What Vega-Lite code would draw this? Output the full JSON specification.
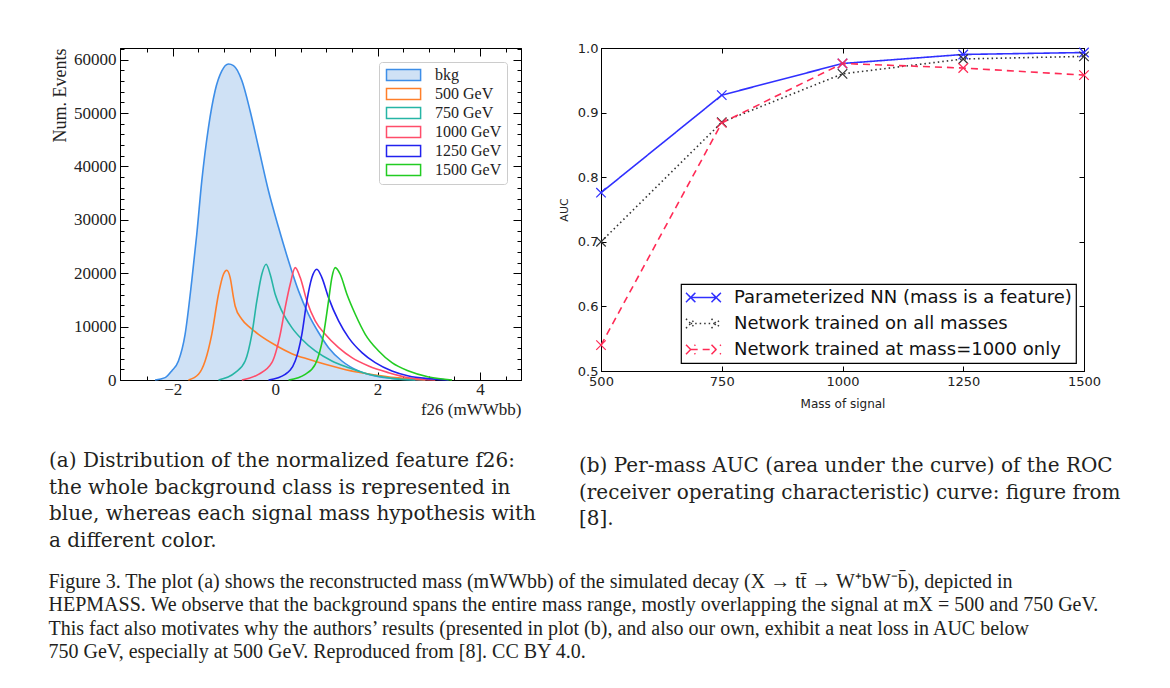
{
  "$schema": "https://vega.github.io/schema/vega-lite/v6.json",
  "padding": {"left": 48, "top": 39, "right": 8, "bottom": 8},
  "background": "white",
  "bounds": "flush",
  "spacing": 80,
  "resolve": {"scale": {"color": "independent", "strokeDash": "independent"}, "legend": {"color": "independent", "strokeDash": "independent"}},
  "title": {
    "text": [
      "Figure 3. The plot (a) shows the reconstructed mass (mWWbb) of the simulated decay (X → tt̄ → W⁺bW⁻b̄), depicted in",
      "HEPMASS. We observe that the background spans the entire mass range, mostly overlapping the signal at mX = 500 and 750 GeV.",
      "This fact also motivates why the authors’ results (presented in plot (b), and also our own, exhibit a neat loss in AUC below",
      "750 GeV, especially at 500 GeV. Reproduced from [8]. CC BY 4.0."
    ],
    "orient": "bottom", "anchor": "start", "frame": "bounds", "offset": 20,
    "font": "Liberation Serif", "fontSize": 20, "fontWeight": "normal", "lineHeight": 23.5, "color": "#231f20"
  },
  "datasets": {
    "hist": [
      {"s": "bkg", "x": -2.345, "y": 0}, {"s": "bkg", "x": -2.15, "y": 440}, {"s": "bkg", "x": -2.02, "y": 1700}, {"s": "bkg", "x": -1.889, "y": 3560}, {"s": "bkg", "x": -1.759, "y": 8560}, {"s": "bkg", "x": -1.629, "y": 18560}, {"s": "bkg", "x": -1.531, "y": 27300}, {"s": "bkg", "x": -1.433, "y": 37300}, {"s": "bkg", "x": -1.303, "y": 47300}, {"s": "bkg", "x": -1.173, "y": 54200}, {"s": "bkg", "x": -1.042, "y": 57900}, {"s": "bkg", "x": -0.912, "y": 59200}, {"s": "bkg", "x": -0.814, "y": 58900}, {"s": "bkg", "x": -0.651, "y": 56100}, {"s": "bkg", "x": -0.489, "y": 50400}, {"s": "bkg", "x": -0.326, "y": 43600}, {"s": "bkg", "x": -0.13, "y": 35400}, {"s": "bkg", "x": 0.065, "y": 28600}, {"s": "bkg", "x": 0.261, "y": 22300}, {"s": "bkg", "x": 0.456, "y": 16700}, {"s": "bkg", "x": 0.651, "y": 12300}, {"s": "bkg", "x": 0.847, "y": 8900}, {"s": "bkg", "x": 1.042, "y": 6060}, {"s": "bkg", "x": 1.303, "y": 3560}, {"s": "bkg", "x": 1.629, "y": 1690}, {"s": "bkg", "x": 1.954, "y": 750}, {"s": "bkg", "x": 2.345, "y": 250}, {"s": "bkg", "x": 2.932, "y": 0},
      {"s": "500 GeV", "x": -1.694, "y": 0}, {"s": "500 GeV", "x": -1.498, "y": 1062}, {"s": "500 GeV", "x": -1.368, "y": 3562}, {"s": "500 GeV", "x": -1.238, "y": 8562}, {"s": "500 GeV", "x": -1.107, "y": 16062}, {"s": "500 GeV", "x": -1.01, "y": 19812}, {"s": "500 GeV", "x": -0.945, "y": 20562}, {"s": "500 GeV", "x": -0.879, "y": 19187}, {"s": "500 GeV", "x": -0.814, "y": 15437}, {"s": "500 GeV", "x": -0.782, "y": 13875}, {"s": "500 GeV", "x": -0.651, "y": 11375}, {"s": "500 GeV", "x": -0.489, "y": 9812}, {"s": "500 GeV", "x": -0.326, "y": 8562}, {"s": "500 GeV", "x": 0, "y": 6562}, {"s": "500 GeV", "x": 0.326, "y": 4937}, {"s": "500 GeV", "x": 0.651, "y": 3875}, {"s": "500 GeV", "x": 0.977, "y": 2937}, {"s": "500 GeV", "x": 1.303, "y": 2125}, {"s": "500 GeV", "x": 1.629, "y": 1437}, {"s": "500 GeV", "x": 1.954, "y": 937}, {"s": "500 GeV", "x": 2.345, "y": 437}, {"s": "500 GeV", "x": 2.932, "y": 0},
      {"s": "750 GeV", "x": -1.107, "y": 0}, {"s": "750 GeV", "x": -0.782, "y": 1375}, {"s": "750 GeV", "x": -0.586, "y": 3562}, {"s": "750 GeV", "x": -0.456, "y": 8562}, {"s": "750 GeV", "x": -0.358, "y": 14812}, {"s": "750 GeV", "x": -0.261, "y": 19812}, {"s": "750 GeV", "x": -0.176, "y": 21687}, {"s": "750 GeV", "x": -0.098, "y": 19812}, {"s": "750 GeV", "x": 0, "y": 16062}, {"s": "750 GeV", "x": 0.13, "y": 12937}, {"s": "750 GeV", "x": 0.326, "y": 9812}, {"s": "750 GeV", "x": 0.521, "y": 7625}, {"s": "750 GeV", "x": 0.782, "y": 5437}, {"s": "750 GeV", "x": 1.107, "y": 3562}, {"s": "750 GeV", "x": 1.433, "y": 2312}, {"s": "750 GeV", "x": 1.824, "y": 1062}, {"s": "750 GeV", "x": 2.28, "y": 312}, {"s": "750 GeV", "x": 2.736, "y": 0},
      {"s": "1000 GeV", "x": -0.651, "y": 0}, {"s": "1000 GeV", "x": -0.326, "y": 1062}, {"s": "1000 GeV", "x": -0.065, "y": 3250}, {"s": "1000 GeV", "x": 0.098, "y": 8562}, {"s": "1000 GeV", "x": 0.195, "y": 13562}, {"s": "1000 GeV", "x": 0.293, "y": 17937}, {"s": "1000 GeV", "x": 0.391, "y": 21062}, {"s": "1000 GeV", "x": 0.489, "y": 19187}, {"s": "1000 GeV", "x": 0.619, "y": 14812}, {"s": "1000 GeV", "x": 0.782, "y": 11062}, {"s": "1000 GeV", "x": 0.977, "y": 8562}, {"s": "1000 GeV", "x": 1.238, "y": 6062}, {"s": "1000 GeV", "x": 1.498, "y": 4187}, {"s": "1000 GeV", "x": 1.824, "y": 2625}, {"s": "1000 GeV", "x": 2.215, "y": 1375}, {"s": "1000 GeV", "x": 2.606, "y": 437}, {"s": "1000 GeV", "x": 3.127, "y": 0},
      {"s": "1250 GeV", "x": -0.13, "y": 0}, {"s": "1250 GeV", "x": 0.195, "y": 1062}, {"s": "1250 GeV", "x": 0.391, "y": 3562}, {"s": "1250 GeV", "x": 0.521, "y": 8562}, {"s": "1250 GeV", "x": 0.619, "y": 14812}, {"s": "1250 GeV", "x": 0.717, "y": 19187}, {"s": "1250 GeV", "x": 0.814, "y": 20750}, {"s": "1250 GeV", "x": 0.912, "y": 19187}, {"s": "1250 GeV", "x": 1.042, "y": 15437}, {"s": "1250 GeV", "x": 1.238, "y": 11062}, {"s": "1250 GeV", "x": 1.433, "y": 7937}, {"s": "1250 GeV", "x": 1.694, "y": 5125}, {"s": "1250 GeV", "x": 1.954, "y": 3250}, {"s": "1250 GeV", "x": 2.28, "y": 1687}, {"s": "1250 GeV", "x": 2.606, "y": 750}, {"s": "1250 GeV", "x": 2.997, "y": 250}, {"s": "1250 GeV", "x": 3.388, "y": 0},
      {"s": "1500 GeV", "x": 0.261, "y": 0}, {"s": "1500 GeV", "x": 0.586, "y": 1062}, {"s": "1500 GeV", "x": 0.782, "y": 2937}, {"s": "1500 GeV", "x": 0.945, "y": 8562}, {"s": "1500 GeV", "x": 1.042, "y": 14812}, {"s": "1500 GeV", "x": 1.107, "y": 19187}, {"s": "1500 GeV", "x": 1.173, "y": 21062}, {"s": "1500 GeV", "x": 1.27, "y": 19812}, {"s": "1500 GeV", "x": 1.401, "y": 16062}, {"s": "1500 GeV", "x": 1.564, "y": 12312}, {"s": "1500 GeV", "x": 1.759, "y": 8562}, {"s": "1500 GeV", "x": 2.02, "y": 5437}, {"s": "1500 GeV", "x": 2.28, "y": 3250}, {"s": "1500 GeV", "x": 2.606, "y": 1687}, {"s": "1500 GeV", "x": 2.997, "y": 562}, {"s": "1500 GeV", "x": 3.453, "y": 0}
    ],
    "auc": [
      {"model": "Parameterized NN (mass is a feature)", "mass": 500, "auc": 0.776},
      {"model": "Parameterized NN (mass is a feature)", "mass": 750, "auc": 0.927},
      {"model": "Parameterized NN (mass is a feature)", "mass": 1000, "auc": 0.976},
      {"model": "Parameterized NN (mass is a feature)", "mass": 1250, "auc": 0.99},
      {"model": "Parameterized NN (mass is a feature)", "mass": 1500, "auc": 0.993},
      {"model": "Network trained on all masses", "mass": 500, "auc": 0.7},
      {"model": "Network trained on all masses", "mass": 750, "auc": 0.885},
      {"model": "Network trained on all masses", "mass": 1000, "auc": 0.96},
      {"model": "Network trained on all masses", "mass": 1250, "auc": 0.983},
      {"model": "Network trained on all masses", "mass": 1500, "auc": 0.987},
      {"model": "Network trained at mass=1000 only", "mass": 500, "auc": 0.54},
      {"model": "Network trained at mass=1000 only", "mass": 750, "auc": 0.884},
      {"model": "Network trained at mass=1000 only", "mass": 1000, "auc": 0.976},
      {"model": "Network trained at mass=1000 only", "mass": 1250, "auc": 0.969},
      {"model": "Network trained at mass=1000 only", "mass": 1500, "auc": 0.958}
    ]
  },
  "hconcat": [
    {
      "width": 401,
      "height": 332,
      "title": {
        "text": [
          "(a) Distribution of the normalized feature f26:",
          "the whole background class is represented in",
          "blue, whereas each signal mass hypothesis with",
          "a different color."
        ],
        "orient": "bottom", "anchor": "start", "frame": "group", "dx": -71, "offset": 34,
        "font": "DejaVu Serif", "fontSize": 20, "fontWeight": "normal", "lineHeight": 26.7, "color": "#231f20"
      },
      "layer": [
        {
          "data": {"name": "hist"},
          "transform": [{"filter": "datum.s === 'bkg'"}],
          "mark": {"type": "area", "interpolate": "monotone", "fill": "#cfe1f5", "fillOpacity": 1},
          "encoding": {
            "x": {"field": "x", "type": "quantitative", "scale": {"domain": [-3.03, 4.8], "nice": false, "zero": false},
              "axis": {"orient": "bottom", "values": [-2.5, -2, -1.5, -1, -0.5, 0, 0.5, 1, 1.5, 2, 2.5, 3, 3.5, 4, 4.5],
                "labelExpr": "datum.value % 2 === 0 ? format(datum.value, 'd') : ''",
                "tickSize": {"condition": {"test": "datum.value % 2 === 0", "value": -8}, "value": -4},
                "labelPadding": 9, "labelFont": "Liberation Serif", "labelFontSize": 17, "labelColor": "#222",
                "title": "f26 (mWWbb)", "titleFont": "Liberation Serif", "titleFontSize": 17, "titleFontWeight": "normal", "titleColor": "#222",
                "titleAnchor": "end", "titlePadding": 0, "labelOverlap": false}},
            "y": {"field": "y", "type": "quantitative", "scale": {"domain": [0, 62200], "nice": false},
              "axis": {"orient": "left", "values": [0, 2000, 4000, 6000, 8000, 10000, 12000, 14000, 16000, 18000, 20000, 22000, 24000, 26000, 28000, 30000, 32000, 34000, 36000, 38000, 40000, 42000, 44000, 46000, 48000, 50000, 52000, 54000, 56000, 58000, 60000, 62000],
                "labelExpr": "datum.value % 10000 === 0 ? datum.value + '' : ''",
                "tickSize": {"condition": {"test": "datum.value % 10000 === 0", "value": -8}, "value": -4},
                "labelPadding": 12, "labelFont": "Liberation Serif", "labelFontSize": 17, "labelColor": "#222",
                "title": "Num. Events", "titleFont": "Liberation Serif", "titleFontSize": 18, "titleFontWeight": "normal", "titleColor": "#222",
                "titleAnchor": "end", "titlePadding": 4, "labelOverlap": false}}
          }
        },
        {
          "data": {"name": "hist"},
          "mark": {"type": "line", "interpolate": "monotone", "strokeWidth": 1.6},
          "encoding": {
            "x": {"field": "x", "type": "quantitative",
              "axis": {"orient": "top", "values": [-2.5, -2, -1.5, -1, -0.5, 0, 0.5, 1, 1.5, 2, 2.5, 3, 3.5, 4, 4.5], "labels": false, "title": null,
                "tickSize": {"condition": {"test": "datum.value % 2 === 0", "value": -8}, "value": -4}}},
            "y": {"field": "y", "type": "quantitative",
              "axis": {"orient": "right", "values": [0, 2000, 4000, 6000, 8000, 10000, 12000, 14000, 16000, 18000, 20000, 22000, 24000, 26000, 28000, 30000, 32000, 34000, 36000, 38000, 40000, 42000, 44000, 46000, 48000, 50000, 52000, 54000, 56000, 58000, 60000, 62000], "labels": false, "title": null,
                "tickSize": {"condition": {"test": "datum.value % 10000 === 0", "value": -8}, "value": -4}}},
            "color": {"field": "s", "type": "nominal",
              "scale": {"domain": ["bkg", "500 GeV", "750 GeV", "1000 GeV", "1250 GeV", "1500 GeV"],
                "range": ["#3d8ee8", "#ff7f2a", "#26b5a5", "#ff4d6a", "#2222ee", "#22cc22"]},
              "legend": {"title": null, "orient": "top-right", "offset": 14, "padding": 5,
                "strokeColor": "#cccccc", "cornerRadius": 3, "fillColor": "white",
                "symbolType": "M-1,-1H5.2V1H-1Z", "symbolSize": 121, "symbolStrokeWidth": 1.5,
                "labelFont": "Liberation Serif", "labelFontSize": 16, "labelColor": "#222", "labelOffset": 35, "rowPadding": 1,
                "encode": {"symbols": {"update": {"fill": {"signal": "datum.value === 'bkg' ? '#cfe1f5' : 'transparent'"}, "fillOpacity": {"value": 1}}}}}}
          }
        }
      ],
      "resolve": {"axis": {"x": "independent", "y": "independent"}}
    },
    {
      "width": 483,
      "height": 323,
      "title": {
        "text": [
          "(b) Per-mass AUC (area under the curve) of the ROC",
          "(receiver operating characteristic) curve: figure from",
          "[8]."
        ],
        "orient": "bottom", "anchor": "start", "frame": "group", "dx": -22, "offset": 47,
        "font": "DejaVu Serif", "fontSize": 20, "fontWeight": "normal", "lineHeight": 26.7, "color": "#231f20"
      },
      "data": {"name": "auc"},
      "layer": [
        {
          "mark": {"type": "line", "strokeWidth": 1.6},
          "encoding": {
            "x": {"field": "mass", "type": "quantitative", "scale": {"domain": [500, 1500], "nice": false, "zero": false},
              "axis": {"orient": "bottom", "values": [500, 750, 1000, 1250, 1500], "format": "d", "tickSize": -5, "labelPadding": 9,
                "labelFont": "DejaVu Sans", "labelFontSize": 13, "labelColor": "#222",
                "title": "Mass of signal", "titleFont": "DejaVu Sans", "titleFontSize": 12, "titleFontWeight": "normal", "titleColor": "#222", "titlePadding": 10}},
            "y": {"field": "auc", "type": "quantitative", "scale": {"domain": [0.5, 1.0], "nice": false, "zero": false},
              "axis": {"orient": "left", "values": [0.5, 0.6, 0.7, 0.8, 0.9, 1.0], "format": ".1f", "tickSize": -5, "labelPadding": 8,
                "labelFont": "DejaVu Sans", "labelFontSize": 13, "labelColor": "#222",
                "title": "AUC", "titleFont": "DejaVu Sans", "titleFontSize": 11, "titleFontWeight": "normal", "titleColor": "#222", "titlePadding": 8}},
            "color": {"field": "model", "type": "nominal",
              "scale": {"domain": ["Parameterized NN (mass is a feature)", "Network trained on all masses", "Network trained at mass=1000 only"],
                "range": ["#3030ff", "#333333", "#ff2a55"]},
              "legend": {"title": null, "orient": "bottom-right", "offset": 8, "padding": 4,
                "strokeColor": "black", "fillColor": "white",
                "symbolType": "M-0.45,0H2.55M-1,-0.55L0.1,0.55M-1,0.55L0.1,-0.55M2,-0.55L3.1,0.55M2,0.55L3.1,-0.55",
                "symbolSize": 289, "symbolStrokeWidth": 1.5,
                "labelFont": "DejaVu Sans", "labelFontSize": 18, "labelColor": "#111", "labelOffset": 30, "rowPadding": 7, "labelLimit": 600,
                "encode": {"legend": {"update": {"strokeWidth": {"value": 1.2}}}}}},
            "strokeDash": {"field": "model", "type": "nominal",
              "scale": {"domain": ["Parameterized NN (mass is a feature)", "Network trained on all masses", "Network trained at mass=1000 only"],
                "range": [[1, 0], [1.5, 3], [7, 5]]}}
          }
        },
        {
          "mark": {"type": "point", "shape": "M-1,-1L1,1M-1,1L1,-1", "filled": false, "size": 90, "strokeWidth": 1.2, "opacity": 1},
          "encoding": {
            "x": {"field": "mass", "type": "quantitative",
              "axis": {"orient": "top", "values": [500, 750, 1000, 1250, 1500], "labels": false, "title": null, "tickSize": -5}},
            "y": {"field": "auc", "type": "quantitative",
              "axis": {"orient": "right", "values": [0.5, 0.6, 0.7, 0.8, 0.9, 1.0], "labels": false, "title": null, "tickSize": -5}},
            "color": {"field": "model", "type": "nominal"}
          }
        }
      ],
      "resolve": {"axis": {"x": "independent", "y": "independent"}}
    }
  ],
  "config": {
    "view": {"stroke": "black", "strokeWidth": 1},
    "axis": {"grid": false, "domainColor": "black", "domainWidth": 1, "tickColor": "black", "tickWidth": 1, "zindex": 1, "labelFlush": false}
  }
}
